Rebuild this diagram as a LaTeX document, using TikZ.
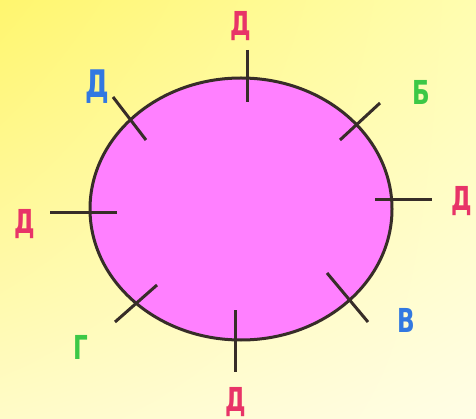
\documentclass[tikz,border=0pt]{standalone}
\usepackage{fontspec}
\usetikzlibrary{shadings}
\newfontfamily\lblfont[FakeStretch=0.7]{DejaVu Sans}
\definecolor{bgA}{RGB}{255,246,110}
\definecolor{bgB}{RGB}{255,253,176}
\definecolor{bgC}{RGB}{255,251,200}
\definecolor{bgD}{RGB}{255,253,230}
\definecolor{fillpink}{RGB}{255,128,255}
\definecolor{lred}{RGB}{232,52,104}
\definecolor{lgreen}{RGB}{60,200,70}
\definecolor{lblue}{RGB}{50,120,225}
\definecolor{tickc}{RGB}{55,45,40}
\tikzset{
  lbl/.style={font=\lblfont\bfseries\fontsize{33}{33}\selectfont, inner sep=0pt},
  tick/.style={draw=tickc, line width=3pt},
}
\begin{document}
\begin{tikzpicture}[x=1pt,y=-1pt]
\useasboundingbox (0,0) rectangle (476,419);
\shade[upper left=bgA, upper right=bgB, lower left=bgC, lower right=bgD] (0,0) rectangle (476,419);
\draw[fill=fillpink, draw=tickc, line width=3pt] (241,209) ellipse [x radius=151, y radius=131];
% ticks
\draw[tick] (247,50) -- (247,102);
\draw[tick] (380,103) -- (340,140);
\draw[tick] (375,200) -- (432,200);
\draw[tick] (327,273) -- (368,322);
\draw[tick] (235,310) -- (235,372);
\draw[tick] (157,285) -- (115,322);
\draw[tick] (50,213) -- (117,213);
\draw[tick] (113,97) -- (146,140);
% labels
\node[lbl, text=lred] (lt) at (241,26) {Д};
\node[lbl, text=lgreen] (lb) at (421,92) {Б};
\node[lbl, text=lred] (lr) at (462,201) {Д};
\node[lbl, text=lblue] (lv) at (406,320) {В};
\node[lbl, text=lred] (lbot) at (236,402) {Д};
\node[lbl, text=lgreen] (lg) at (81,347) {Г};
\node[lbl, text=lred] (ll) at (25,224) {Д};
\node[lbl, text=lblue, font=\lblfont\bfseries\fontsize{38}{38}\selectfont] (ltl) at (97,87) {Д};
\end{tikzpicture}
\end{document}
